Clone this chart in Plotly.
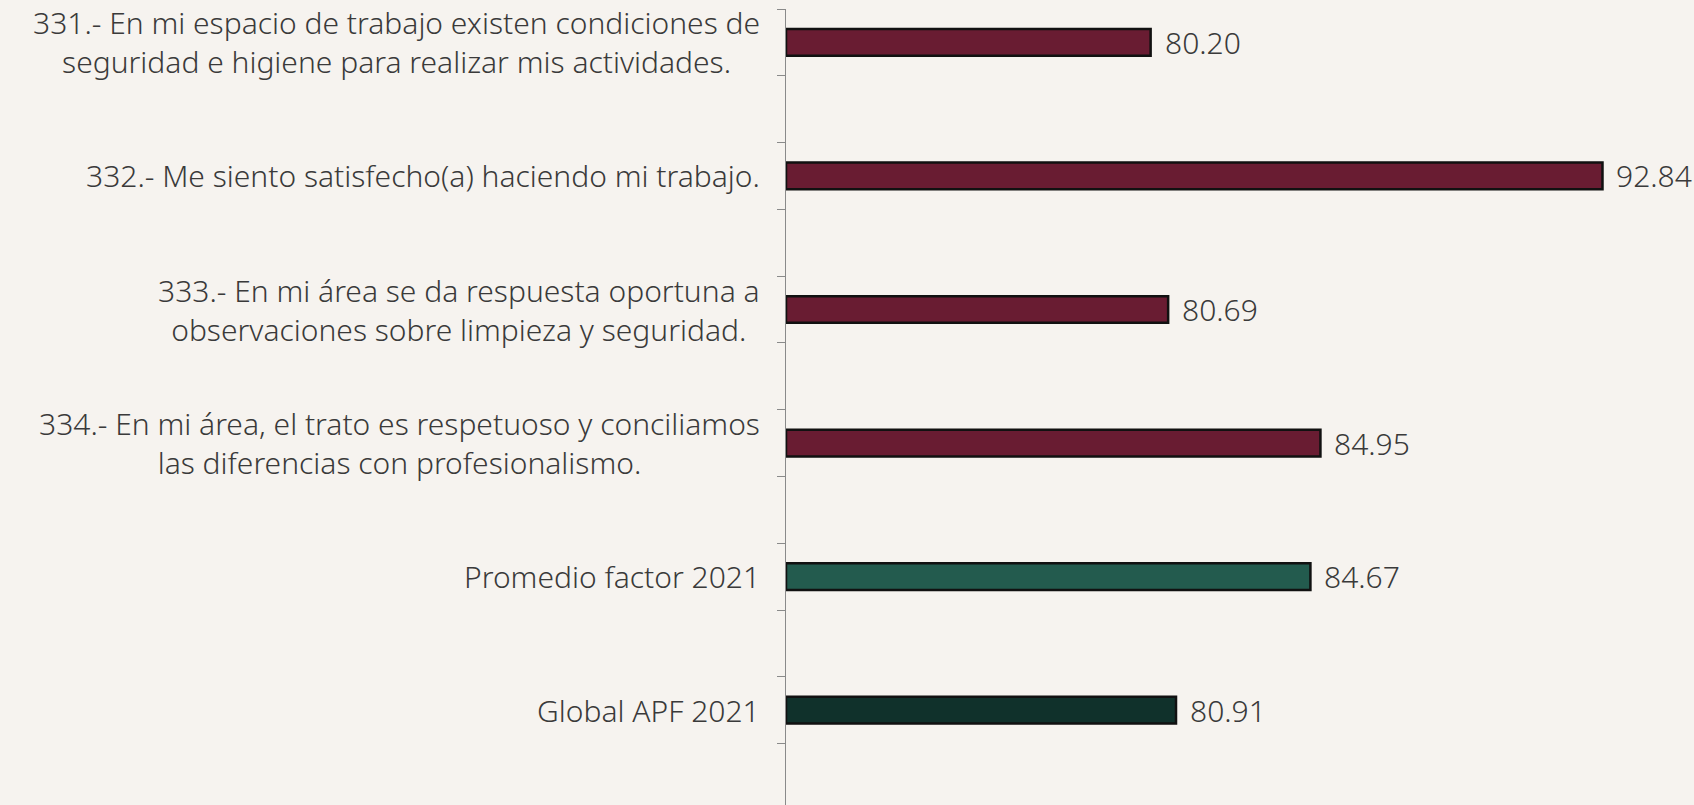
import plotly.graph_objects as go

labels = [
    "331.- En mi espacio de trabajo existen condiciones de<br>seguridad e higiene para realizar mis actividades.",
    "332.- Me siento satisfecho(a) haciendo mi trabajo.",
    "333.- En mi área se da respuesta oportuna a<br>observaciones sobre limpieza y seguridad.",
    "334.- En mi área, el trato es respetuoso y conciliamos<br>las diferencias con profesionalismo.",
    "Promedio factor 2021",
    "Global APF 2021",
]
values = [80.20, 92.84, 80.69, 84.95, 84.67, 80.91]
colors = ["#691C32", "#691C32", "#691C32", "#691C32", "#235B4E", "#10312B"]

positions = list(range(len(values)))
x_min = 70

FONT = "Noto Sans"
TXT = "#3a3a3a"
BG = "#F6F3EF"

fig = go.Figure()
fig.add_trace(go.Bar(
    x=[v - x_min for v in values],
    base=x_min,
    y=positions,
    orientation="h",
    width=0.2,
    marker=dict(color=colors, line=dict(color="#111111", width=2.5)),
    hoverinfo="skip",
))

annotations = []
for p, lab in zip(positions, labels):
    annotations.append(dict(
        x=x_min, y=p, xref="x", yref="y", text=lab, showarrow=False,
        xanchor="right", yanchor="middle", align="center", xshift=-24,
        font=dict(family=FONT, size=30, color=TXT, weight=300),
    ))
for p, v in zip(positions, values):
    annotations.append(dict(
        x=v, y=p, xref="x", yref="y", text=f"{v:.2f}", showarrow=False,
        xanchor="left", yanchor="middle", xshift=12,
        font=dict(family=FONT, size=30, color=TXT, weight=300),
    ))

tickvals = []
for p in positions:
    tickvals += [p - 0.25, p + 0.25]

fig.update_layout(
    width=1694, height=805,
    margin=dict(l=786, r=0, t=9, b=0),
    paper_bgcolor=BG,
    plot_bgcolor="rgba(0,0,0,0)",
    showlegend=False,
    annotations=annotations,
    xaxis=dict(range=[x_min, 95.4], visible=False),
    yaxis=dict(
        range=[5.71, -0.25], showline=True, linecolor="#8a8a8a", linewidth=1,
        ticks="outside", ticklen=8, tickcolor="#8a8a8a", tickwidth=1,
        tickvals=tickvals, showticklabels=False, showgrid=False, zeroline=False,
    ),
)

fig.write_html(
    "out.html",
    config={"displayModeBar": False},
    post_script="document.body.style.margin='0';document.body.style.overflow='hidden';document.body.style.background='" + BG + "';",
)
